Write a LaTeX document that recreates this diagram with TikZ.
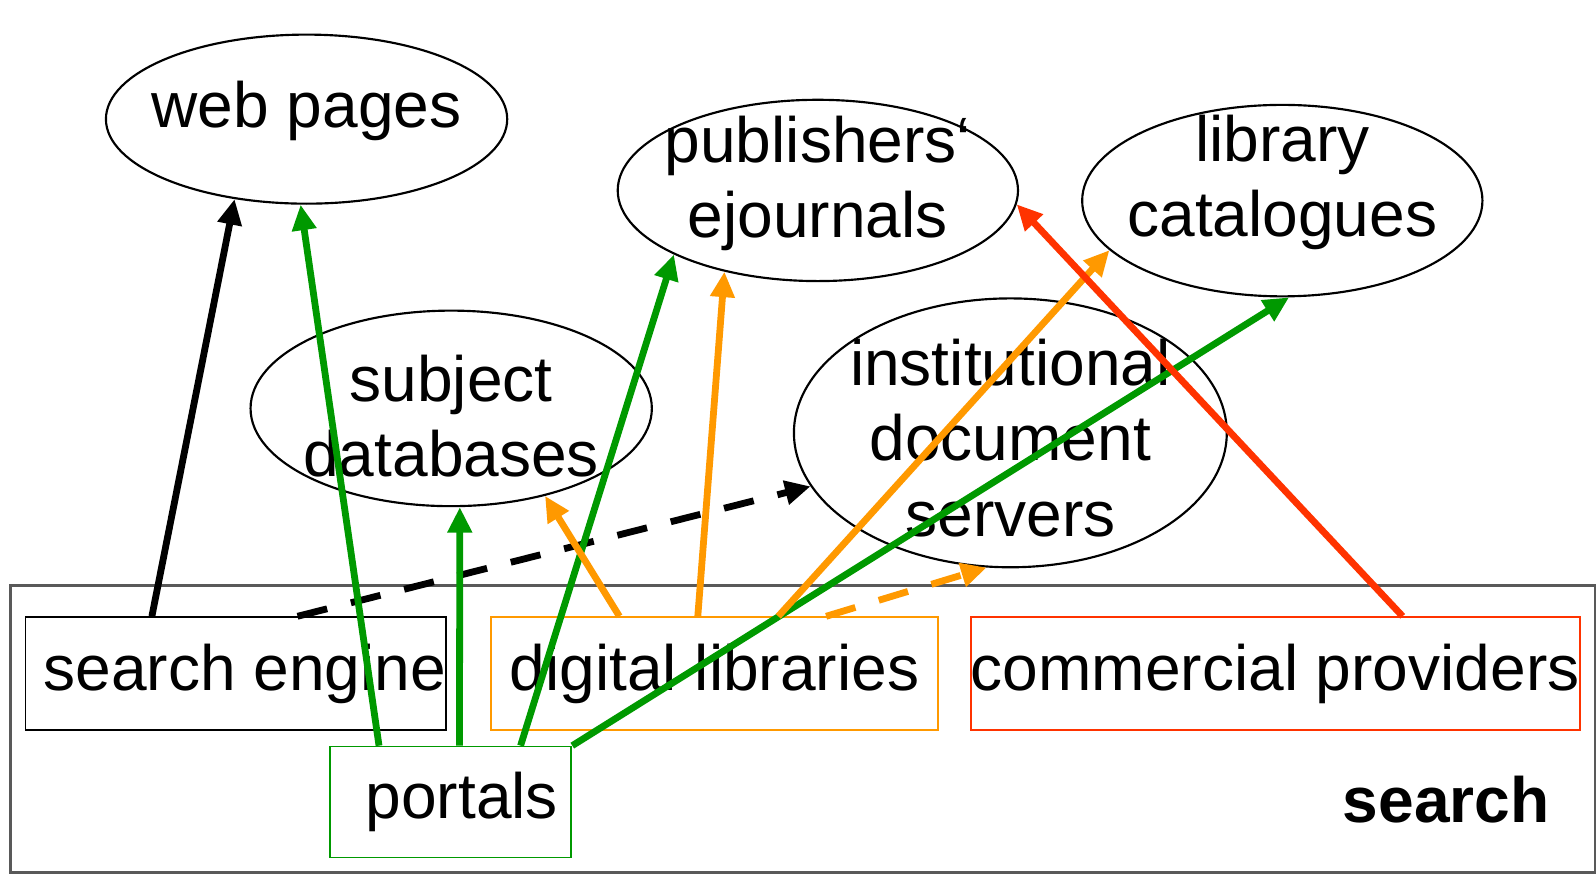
\documentclass[tikz,border=0pt]{standalone}
\usepackage{fontspec}
\setmainfont{Liberation Sans}
\usetikzlibrary{shapes.geometric,arrows.meta}
\definecolor{dlgreen}{HTML}{009900}
\definecolor{dlorange}{HTML}{FF9900}
\definecolor{dlred}{HTML}{FF3300}
\begin{document}
\begin{tikzpicture}[
    ell/.style={draw, ellipse, line width=0.6pt, inner sep=0pt},
    lab/.style={align=center, font=\fontsize{17.9}{21}\selectfont},
    src/.style={draw, line width=0.5pt, minimum height=1.11cm, inner sep=0pt, font=\fontsize{17.9}{21}\selectfont},
    link/.style={line width=1.9pt, -{Triangle[length=0.25cm,width=0.23cm]}},
  ]
  \useasboundingbox (0,0.157) rectangle (15.67,8.73);

  % search area
  \node[draw=black!65, line width=0.8pt, minimum width=15.56cm, minimum height=2.82cm, inner sep=0pt] (area) at (7.88,1.57) {};
  \node[font=\fontsize{17.9}{21}\selectfont\bfseries] (srch) at (14.2,0.88) {search};

  \node[src, minimum width=4.13cm, label={[lab,xshift=0.09cm]center:search engine}] (se) at (2.315,2.115) {};
  \node[src, draw=dlorange, minimum width=4.39cm] (dl) at (7.015,2.115) {digital libraries};
  \node[src, draw=dlred, minimum width=5.98cm] (cp) at (12.52,2.115) {commercial providers};
  \node[src, draw=dlgreen, minimum width=2.37cm, minimum height=1.09cm, label={[lab,xshift=0.11cm]center:portals}] (pt) at (4.425,0.855) {};

  % sources
  \node[ell, minimum width=3.94cm, minimum height=1.66cm, label={[lab,yshift=0.08cm]center:web pages}] (web) at (3.01,7.56) {};
  \node[ell, minimum width=3.93cm, minimum height=1.78cm, label={[lab,yshift=0.07cm]center:publishers‘\\ejournals}] (pub) at (8.03,6.86) {};
  \node[ell, minimum width=3.93cm, minimum height=1.88cm, label={[lab,yshift=0.18cm]center:library\\catalogues}] (lib) at (12.59,6.76) {};
  \node[ell, minimum width=3.94cm, minimum height=1.92cm, label={[lab,yshift=-0.075cm]center:subject\\databases}] (subj) at (4.43,4.72) {};
  \node[ell, minimum width=4.25cm, minimum height=2.64cm, label={[lab,yshift=-0.05cm]center:institutional\\document\\servers}] (inst) at (9.92,4.48) {};

  % search engine
  \draw[link] ([xshift=1.25cm]se.north west) -- (web.-132);
  \draw[link, dash pattern=on 0.3cm off 0.24cm] ([xshift=2.68cm]se.north west) -- (inst.-165);

  % portals
  \draw[link, dlgreen] ([xshift=0.49cm]pt.north west) -- (web.-94);
  \draw[link, dlgreen] ([xshift=1.28cm]pt.north west) -- (subj.-85);
  \draw[link, dlgreen] ([xshift=1.88cm]pt.north west) -- (pub.-156);
  \draw[link, dlgreen] (pt.north east) -- (lib.-86);

  % digital libraries
  \draw[link, dlorange] ([xshift=1.27cm]dl.north west) -- (subj.-43);
  \draw[link, dlorange] ([xshift=2.04cm]dl.north west) -- (pub.-139);
  \draw[link, dlorange] ([xshift=2.83cm]dl.north west) -- (lib.-164);
  \draw[link, dlorange, dash pattern=on 0.3cm off 0.24cm] ([xshift=3.30cm]dl.north west) -- (inst.-100);

  % commercial providers
  \draw[link, dlred] ([xshift=4.25cm]cp.north west) -- (pub.-4);

\end{tikzpicture}
\end{document}
